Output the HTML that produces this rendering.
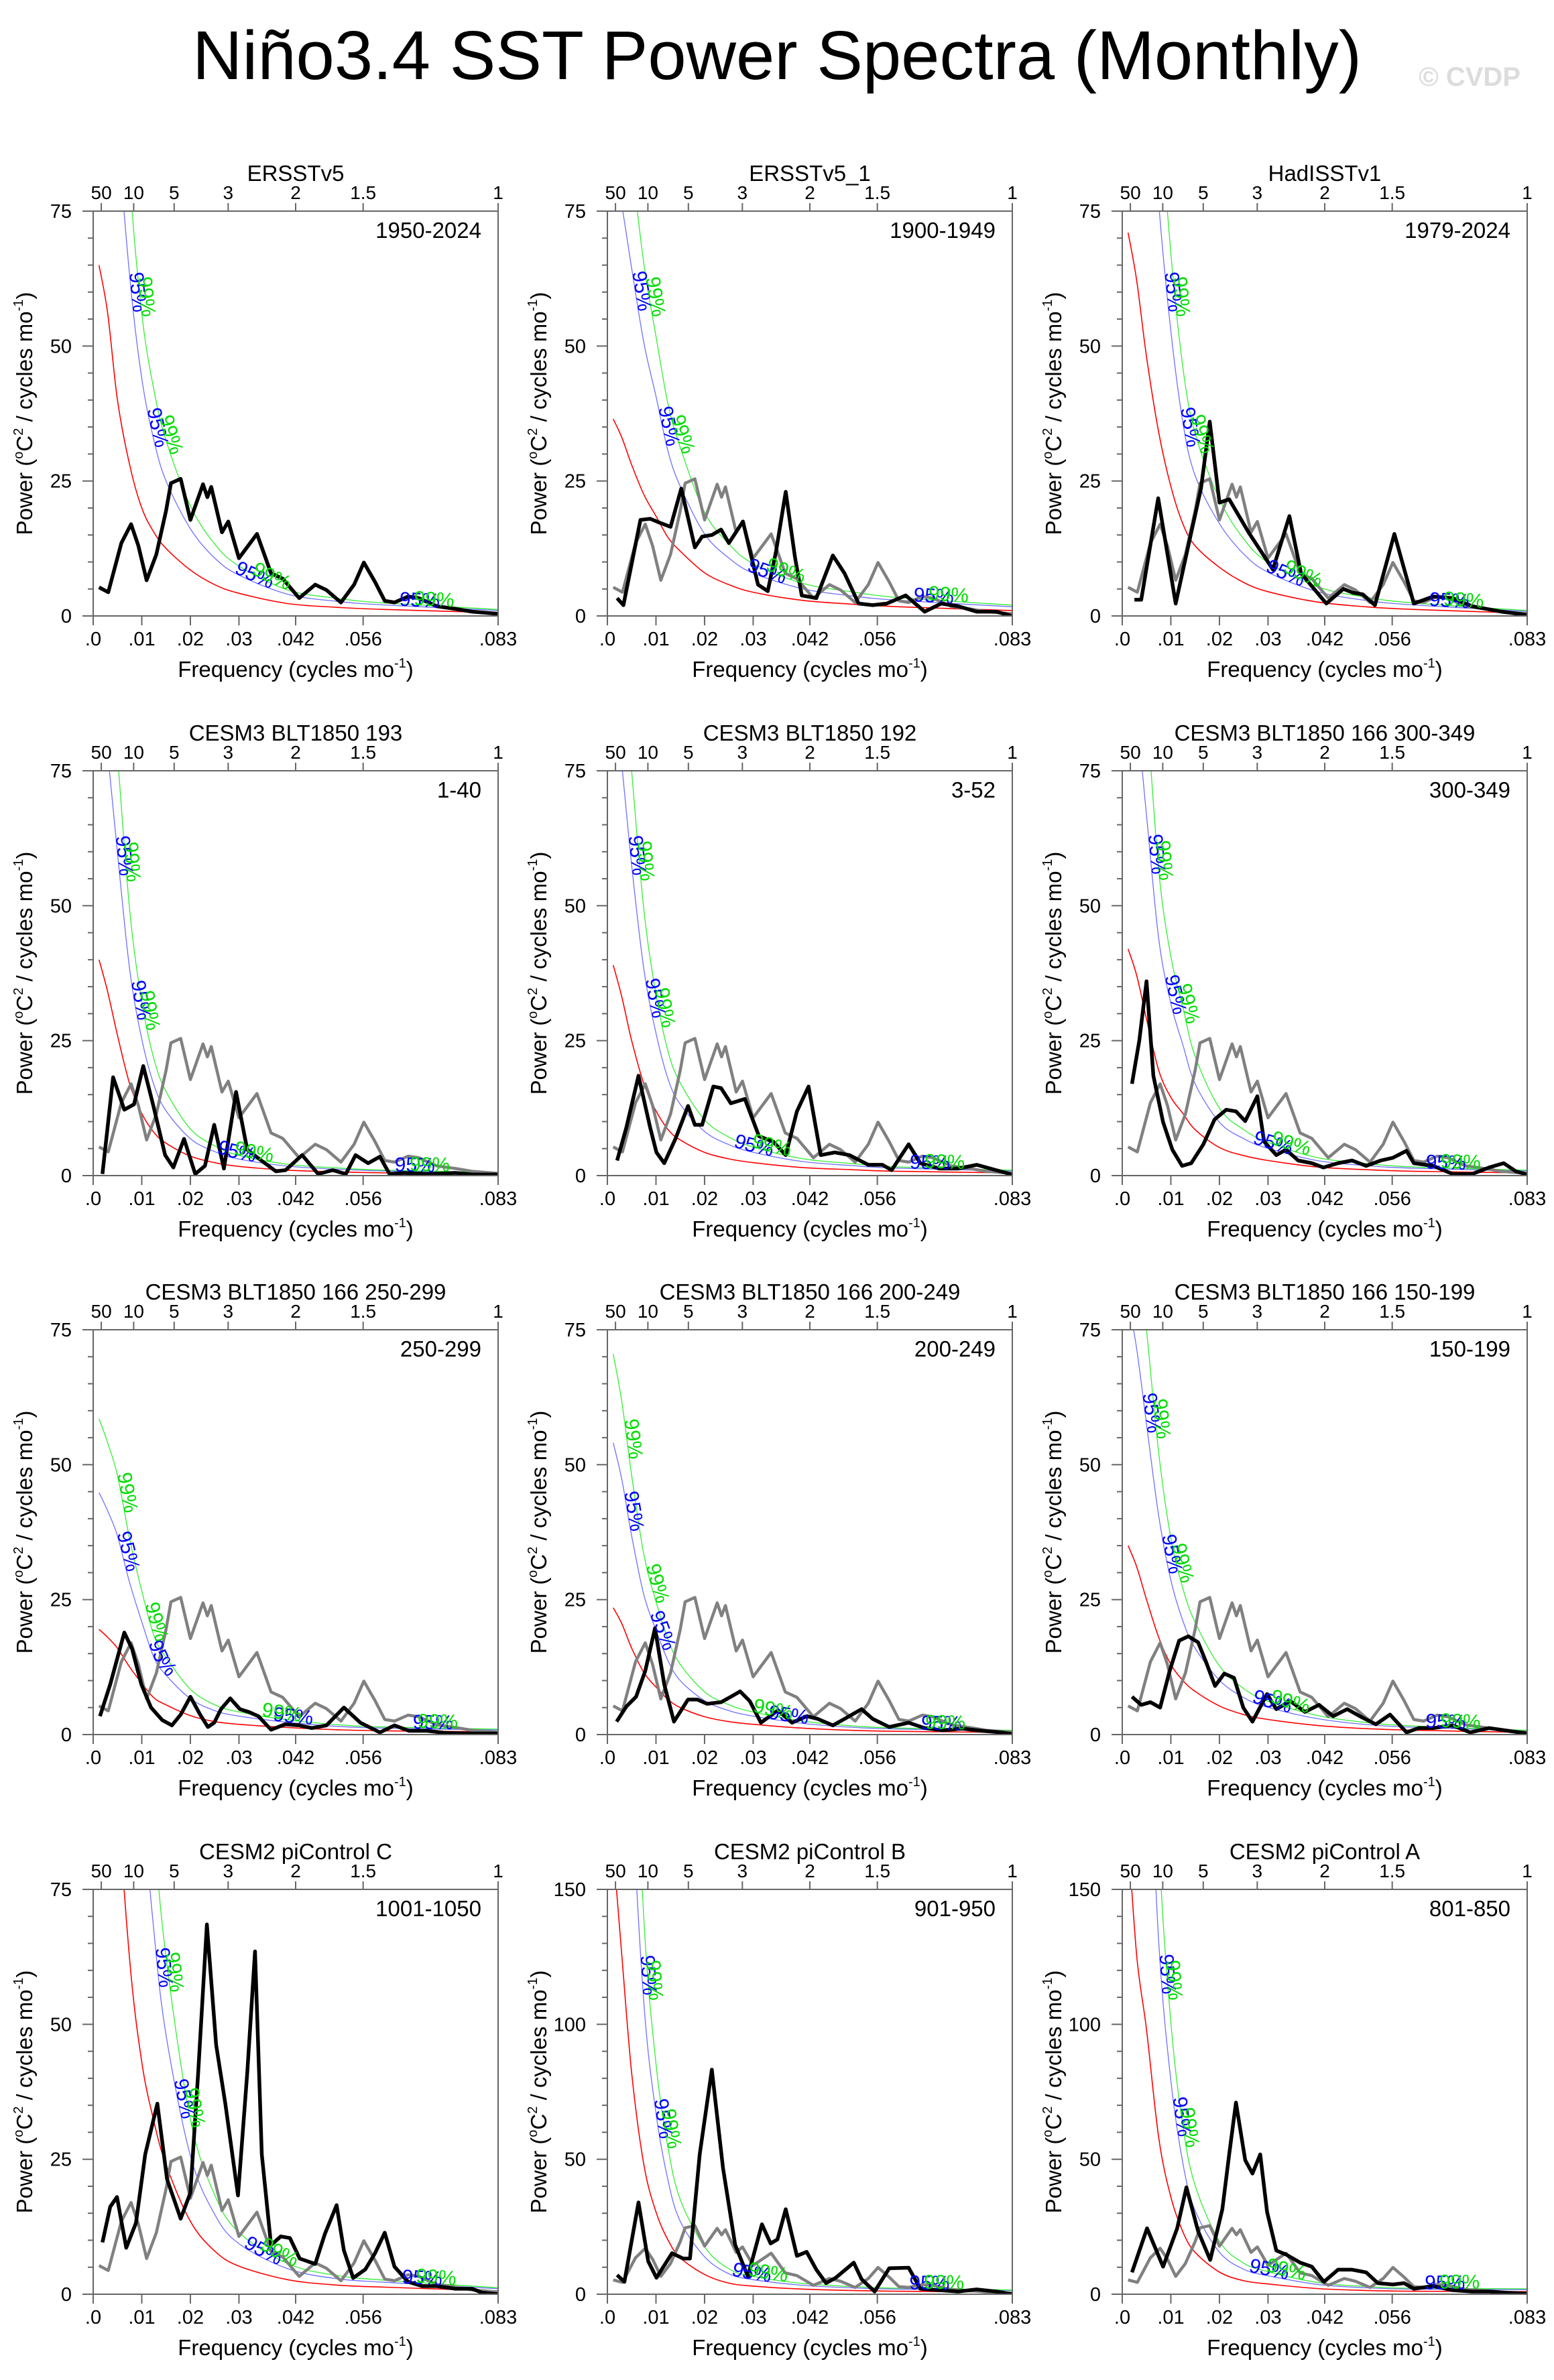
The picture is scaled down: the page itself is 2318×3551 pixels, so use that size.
<!DOCTYPE html>
<html><head><meta charset="utf-8">
<style>
html,body{margin:0;padding:0;background:#fff;}
svg{display:block;font-family:"Liberation Sans",sans-serif;}
</style></head>
<body>
<svg id="fig" width="2318" height="3551" viewBox="0 0 2318 3551" xmlns="http://www.w3.org/2000/svg">
<rect x="0" y="0" width="2318" height="3551" fill="#fff"/>
<text x="1159" y="118" font-size="103" text-anchor="middle" textLength="1744" lengthAdjust="spacingAndGlyphs" fill="#000">Niño3.4 SST Power Spectra (Monthly)</text>
<text x="2268" y="128" font-size="40" font-weight="bold" text-anchor="end" fill="#dcdcdc">© CVDP</text>
</svg>
<script>
// ---- data ----
const KF=[0.0012,0.003,0.005,0.0075,0.01,0.0125,0.015,0.02,0.025,0.03,0.04,0.05,0.06,0.0833];
const BLUE_FACTOR=[2.3,2.3,2.3,2.25,2.2,2.1,2.0,1.9,1.85,1.8,1.75,1.7,1.7,1.7];
const GREEN_FACTOR=[3.0,3.0,3.0,2.9,2.8,2.7,2.6,2.4,2.3,2.2,2.1,2.05,2.0,2.0];

const RED1=[65,56,40,28,20,15.5,12.5,8.5,5.8,4.2,2.3,1.6,1.2,0.6];
const RED2=[36.5,33,28,22.5,18.5,14.5,12,8,5.8,4.4,2.9,2.2,1.7,1.0];
const RED3=[71,62,48,34,24,17,13,9,6.2,4.5,2.6,1.7,1.2,0.5];
const RED4=[40,34,26,17,11.5,8,6,3.6,2.4,1.7,1.0,0.7,0.5,0.3];
const RED5=[39,33,25,17,12,8.5,6.6,4.3,3.1,2.4,1.5,1.1,0.8,0.5];
const RED6=[42,37,29,19.5,14.5,11.5,8.5,5.2,3.7,2.8,1.6,1.1,0.8,0.5];
const RED7=[19.5,18,16,12.5,9.5,6.8,5.5,3.5,2.4,1.9,1.3,0.9,0.7,0.5];
const RED8=[23.5,20.5,16,11.5,8.8,6.5,5,3.3,2.4,1.9,1.2,0.8,0.6,0.4];
const RED9=[35,31,25,18,13,10,8,5.3,3.7,2.8,1.7,1.1,0.8,0.4];
const RED10=[200,140,95,62,43,32,24,13.5,8,5.2,2.7,1.7,1.3,0.6];
const RED11=[165,125,82,48,30.5,20,13.5,7.3,4.1,3,1.9,1.4,1.1,0.8];
const RED12=[170,125,98,58,36,23,15.5,8.2,5,3.8,2.1,1.4,1.1,1.0];

const P1F=[.0012,.0031,.0058,.0078,.0093,.011,.013,.015,.016,.018,.020,.0226,.0235,.0243,.0265,.0278,.030,.0337,.0366,.039,.0424,.0457,.048,.051,.0537,.0557,.058,.060,.062,.0648,.067,.0707,.0746,.078,.0833];
const P1V=[5.3,4.4,13.5,17,13,6.6,11.4,19.5,24.6,25.4,17.8,24.4,22,23.9,15.5,17.5,10.7,15.2,7.9,6.9,3.3,5.8,4.8,2.5,5.8,9.9,6.3,2.8,2.5,3.6,3.3,1.8,1.3,0.8,0.4];
const P2F=[.002,.0033,.0068,.0088,.0107,.013,.0152,.018,.0195,.0215,.0234,.025,.0279,.031,.033,.0347,.0367,.0386,.04,.043,.0464,.0488,.0517,.0546,.0575,.0614,.0653,.0687,.0722,.076,.08,.0833];
const P2V=[3.3,2,17.8,18,17.3,16.5,23.6,12.7,14.7,15,16,13.5,17.5,5.8,4.6,11.9,23,10.9,3.8,3.3,11.2,7.9,2.3,2,2.3,3.8,0.8,2.3,1.8,0.8,0.8,0];
const P3F=[.0025,.0039,.0074,.011,.0132,.0162,.018,.020,.022,.026,.031,.0344,.0368,.042,.0455,.0475,.0495,.052,.056,.060,.064,.068,.072,.078,.0833];
const P3V=[3,3,21.8,2.3,11.4,23.6,36,21,21.6,15.5,8.6,18.5,7.9,2.3,5,4.3,4,2,15.2,2.3,3.6,3.3,1.8,0.8,0.2];
const P4F=[.0019,.0041,.0064,.0084,.0103,.0123,.0148,.0165,.0187,.021,.023,.0249,.0269,.0294,.0317,.0346,.0376,.0396,.043,.0463,.0493,.052,.054,.0566,.059,.061,.064,.0687,.0746,.078,.0833];
const P4V=[0.3,18.2,12.2,13.2,20.3,13.2,3.8,1.5,6.8,0.3,1.8,9.4,1.3,15.5,4.8,2.8,0.8,1,3.8,0.3,1,0.3,3.8,2.3,3.5,0.3,0.5,0.3,0.5,0.2,0.2];
const P5F=[.002,.0039,.0064,.0088,.0101,.0117,.014,.0166,.018,.0195,.0218,.0234,.0254,.0283,.0312,.0341,.0367,.039,.0414,.0439,.0468,.0498,.0537,.0566,.0585,.062,.0644,.0683,.0722,.076,.08,.0833];
const P5V=[2.8,8.9,18.5,8.9,4.3,2.3,6.8,12.9,9.4,9.4,16.5,16.2,13.4,14.2,7.3,6.3,3.8,11.9,16.5,3.8,4.3,3.8,2,2,1,5.8,2.3,1.3,1.3,2,1,0.2];
const P6F=[.002,.0035,.005,.0064,.0084,.0103,.0123,.0142,.0167,.019,.0214,.0234,.0253,.0278,.0292,.0317,.0337,.0362,.039,.0414,.0444,.0473,.0502,.0532,.0557,.0585,.06,.064,.068,.072,.0755,.0785,.081,.0833];
const P6V=[17,25,36,18.5,9.9,4.8,1.8,2.3,5.8,10.4,12.2,11.9,10.1,14.7,6.3,3.8,4.8,2.8,2.3,1.5,2.3,2.8,1.8,2.8,3.3,4.6,2.3,1.8,0.3,0.3,1.5,2.3,0.8,0.2];
const P7F=[.0014,.0035,.0064,.008,.0099,.0119,.0142,.0162,.018,.020,.022,.0236,.0249,.0263,.0282,.0302,.032,.034,.0366,.0395,.0424,.045,.048,.0516,.055,.059,.062,.065,.0687,.0726,.078,.0833];
const P7V=[3.4,9.3,18.9,15.9,9.3,5,2.7,1.7,3.7,7,3.7,1.4,2.2,4.7,6.7,4.7,4.2,3.4,0.9,1.9,1.7,1.2,1.7,5,2.2,0.4,1.7,0.7,0.7,0.3,0.2,0.2];
const P8F=[.0019,.0039,.0059,.0078,.0098,.0117,.0137,.0166,.0185,.0205,.0234,.0254,.0273,.0293,.0316,.0351,.038,.041,.0433,.0464,.0488,.0523,.0546,.058,.062,.0653,.069,.073,.077,.081,.0833];
const P8V=[2.4,5.2,7,11.8,19.7,9.3,2.4,6.5,6.5,5.7,6,7,8,6.2,2.2,4.5,2.2,3.4,2.9,1.7,2.9,4.7,2.9,1.4,2.2,1.2,0.8,1.1,0.7,0.4,0.1];
const P9F=[.002,.0039,.0058,.0078,.0097,.0117,.0136,.0156,.0171,.0191,.021,.023,.0249,.0268,.0298,.0317,.0346,.0376,.0405,.0434,.0463,.0493,.0522,.0551,.0585,.061,.064,.068,.0716,.0755,.0794,.0833];
const P9V=[7,5.5,6,5,11.6,17.4,18.2,17.1,13.8,9,11.3,10.5,5,2.4,7.5,4.7,6.2,4.2,5.5,3.4,4.7,3.2,1.9,3.7,0.4,1.2,1.2,1.7,0.4,1.2,0.7,0.2];
const P10F=[.0019,.0035,.0049,.0068,.0088,.0107,.0132,.0152,.018,.020,.0216,.0234,.0253,.0272,.0298,.0317,.0333,.0347,.0366,.0386,.0405,.0425,.0457,.0477,.0501,.0516,.0535,.056,.058,.060,.062,.0648,.0677,.0707,.0746,.078,.080,.0833];
const P10V=[9.6,16.2,18,8.6,13.2,25.9,35.3,21.3,14,18.8,41,68.5,46.2,35.3,18.3,41,63.5,25.9,9.1,10.7,10.4,6.6,5.6,11.2,16.5,8.1,3,4.6,7.6,11.4,5.1,2.3,1.5,1.5,1,1,0.3,0];
const P11F=[.002,.0035,.0064,.0084,.0101,.0133,.0156,.017,.019,.0215,.0238,.0263,.0289,.0318,.0336,.035,.0367,.039,.041,.043,.045,.047,.0507,.0523,.055,.058,.062,.0644,.0683,.0722,.076,.08,.0833];
const P11V=[7.1,4.6,34,12.2,6.1,15.2,13.2,13.2,51.8,83.2,46.7,18.3,6.6,25.9,18.8,20.3,31.5,14.2,15.7,9.1,4.1,6.1,11.7,5.6,1,9.6,9.8,2,1.5,1,1.8,1,0];
const P12F=[.002,.0051,.0084,.0113,.0132,.0156,.0181,.0206,.022,.0234,.0253,.0268,.0284,.0298,.0317,.0337,.0366,.039,.0415,.0444,.0473,.0502,.0526,.0557,.058,.06,.064,.068,.072,.0755,.0794,.0833];
const P12V=[8.1,24.4,10.2,24.4,39.6,23.4,12.7,31.5,51.8,71,49.7,44.7,51.8,30.5,16.2,14.7,11.7,10.2,4.6,9.1,9.1,8.1,4.1,3.6,4.1,2,3,1.5,1,1,0.5,0.2];

const TITLES=["ERSSTv5","ERSSTv5_1","HadISSTv1","CESM3 BLT1850 193","CESM3 BLT1850 192","CESM3 BLT1850 166 300-349","CESM3 BLT1850 166 250-299","CESM3 BLT1850 166 200-249","CESM3 BLT1850 166 150-199","CESM2 piControl C","CESM2 piControl B","CESM2 piControl A"];
const RANGES=["1950-2024","1900-1949","1979-2024","1-40","3-52","300-349","250-299","200-249","150-199","1001-1050","901-950","801-850"];
const YMAX=[75,75,75,75,75,75,75,75,75,75,150,150];
const FREQS=[P1F,P2F,P3F,P4F,P5F,P6F,P7F,P8F,P9F,P10F,P11F,P12F];
const VALS=[P1V,P2V,P3V,P4V,P5V,P6V,P7V,P8V,P9V,P10V,P11V,P12V];
const REDS=[RED1,RED2,RED3,RED4,RED5,RED6,RED7,RED8,RED9,RED10,RED11,RED12];
const XTICKS=[0,0.01,0.02,0.03,1/24,1/18,1/12];
const XTICK_LABELS=[".0",".01",".02",".03",".042",".056",".083"];
const PERIODS=[50,10,5,3,2,1.5,1];
const PERIOD_LABELS=["50","10","5","3","2","1.5","1"];

// ---- layout ----
const COLX=[139,906,1674], ROWY=[315,1150,1984,2819], W=604, H=604, FMAX=1/12;
const NS="http://www.w3.org/2000/svg";
const svg=document.getElementById('fig');
function mk(tag,attrs,parent){const e=document.createElementNS(NS,tag);for(const k in attrs)e.setAttribute(k,attrs[k]);parent.appendChild(e);return e;}

function smoothPath(pts){
  let d="M"+pts[0][0].toFixed(1)+","+pts[0][1].toFixed(1);
  for(let i=0;i<pts.length-1;i++){
    const p0=pts[Math.max(0,i-1)],p1=pts[i],p2=pts[i+1],p3=pts[Math.min(pts.length-1,i+2)];
    const c1=[p1[0]+(p2[0]-p0[0])/6,p1[1]+(p2[1]-p0[1])/6];
    const c2=[p2[0]-(p3[0]-p1[0])/6,p2[1]-(p3[1]-p1[1])/6];
    d+=" C"+c1[0].toFixed(1)+","+c1[1].toFixed(1)+" "+c2[0].toFixed(1)+","+c2[1].toFixed(1)+" "+p2[0].toFixed(1)+","+p2[1].toFixed(1);
  }
  return d;
}

for(let p=0;p<12;p++){
  const x0=COLX[p%3], y0=ROWY[Math.floor(p/3)], ymax=YMAX[p];
  const xs=f=>x0+f/FMAX*W;
  const ys=v=>y0+H-v/ymax*H;
  const g=mk('g',{},svg);
  
  
  const cp=mk('clipPath',{id:'clip'+p},g);
  mk('rect',{x:x0,y:y0,width:W,height:H},cp);

  // title
  const t=mk('text',{x:x0+W/2,y:y0-45,'font-size':33,'text-anchor':'middle',fill:'#000'},g);
  t.textContent=TITLES[p];
  
  
  // range label
  const r=mk('text',{x:x0+W-25,y:y0+40,'font-size':33,'text-anchor':'end',fill:'#000'},g);
  r.textContent=RANGES[p];
  
  

  // curves group (clipped)
  const cg=mk('g',{'clip-path':'url(#clip'+p+')'},g);
  
  

  const redPts=KF.map((f,i)=>[xs(f),ys(REDS[p][i])]);
  const bluePts=KF.map((f,i)=>[xs(f),ys(REDS[p][i]*BLUE_FACTOR[i])]);
  const greenPts=KF.map((f,i)=>[xs(f),ys(REDS[p][i]*GREEN_FACTOR[i])]);
  const red=mk('path',{d:smoothPath(redPts),fill:'none',stroke:'#ff0000','stroke-width':1.6},cg);
  
  
  const blue=mk('path',{id:'blue'+p,d:smoothPath(bluePts),fill:'none',stroke:'#6f6fff','stroke-width':1.3},cg);
  
  
  const green=mk('path',{id:'green'+p,d:smoothPath(greenPts),fill:'none',stroke:'#33ee33','stroke-width':1.3},cg);
  
  

  if(p>0){
    const gp=P1F.map((f,i)=>xs(f).toFixed(1)+","+ys(P1V[i]).toFixed(1)).join(" ");
    const gl=mk('polyline',{points:gp,fill:'none',stroke:'#808080','stroke-width':4.5,'stroke-linejoin':'round'},cg);
    
    
  }
  const bp=FREQS[p].map((f,i)=>xs(f).toFixed(1)+","+ys(VALS[p][i]).toFixed(1)).join(" ");
  const bl=mk('polyline',{points:bp,fill:'none',stroke:'#000','stroke-width':5.5,'stroke-linejoin':'round'},cg);
  
  

  // confidence labels along curves
  [[blue,'95%','#0000ff',[0.12,0.33,0.62,0.88]],[green,'99%','#00dd00',[0.13,0.35,0.64,0.9]]].forEach(([path,txt,col,fr])=>{
    const L=path.getTotalLength();
    let L0=0;
    for(let s=0;s<L;s+=2){if(path.getPointAtLength(s).y>=y0+4){L0=s;break;}}
    fr.forEach(fv=>{
      const tx=mk('text',{'font-size':30,fill:col,'text-anchor':'middle'},cg);
      
      
      const tp=mk('textPath',{href:'#'+path.id,startOffset:(L0+fv*(L-L0)).toFixed(1)},tx);
      tp.textContent=txt;
    });
  });

  // frame
  const fr=mk('rect',{x:x0,y:y0,width:W,height:H,fill:'none',stroke:'#666','stroke-width':2},g);
  
  

  // y ticks
  const yStep=ymax/15;
  for(let k=0;k<=15;k++){
    const v=k*yStep, y=ys(v), major=(k%5===0);
    const tk=mk('line',{x1:x0,x2:x0-(major?16:8),y1:y,y2:y,stroke:'#666','stroke-width':2},g);
    
    
    if(major){
      const lb=mk('text',{x:x0-32,y:y+10,'font-size':29,'text-anchor':'end',fill:'#000'},g);
      lb.textContent=String(Math.round(v));
      
      
    }
  }
  // x ticks
  XTICKS.forEach((f,i)=>{
    const x=xs(f);
    const tk=mk('line',{x1:x,x2:x,y1:y0+H,y2:y0+H+14,stroke:'#666','stroke-width':2},g);
    
    
    const lb=mk('text',{x:x,y:y0+H+44,'font-size':29,'text-anchor':'middle',fill:'#000'},g);
    lb.textContent=XTICK_LABELS[i];
    
    
  });
  // top period ticks
  PERIODS.forEach((P,i)=>{
    const x=xs(1/(12*P));
    const tk=mk('line',{x1:x,x2:x,y1:y0,y2:y0-12,stroke:'#666','stroke-width':2},g);
    
    
    const lb=mk('text',{x:x,y:y0-18,'font-size':28,'text-anchor':'middle',fill:'#000'},g);
    lb.textContent=PERIOD_LABELS[i];
    
    
  });
  // x title
  const xt=mk('text',{x:x0+W/2,y:y0+H+91,'font-size':33,'text-anchor':'middle',fill:'#000'},g);
  
  
  xt.appendChild(document.createTextNode('Frequency (cycles mo'));
  const s1=mk('tspan',{'font-size':20,dy:-14},xt); s1.textContent='-1';
  const s2=mk('tspan',{dy:14},xt); s2.textContent=')';
  // y title
  const yt=mk('text',{x:0,y:0,'font-size':33,'text-anchor':'middle',fill:'#000',transform:'translate('+(x0-91)+','+(y0+H/2)+') rotate(-90)'},g);
  
  
  yt.appendChild(document.createTextNode('Power ('));
  const a1=mk('tspan',{'font-size':20,dy:-14},yt); a1.textContent='o';
  const a2=mk('tspan',{dy:14},yt); a2.textContent='C';
  const a3=mk('tspan',{'font-size':20,dy:-14},yt); a3.textContent='2';
  const a4=mk('tspan',{dy:14},yt); a4.textContent=' / cycles mo';
  const a5=mk('tspan',{'font-size':20,dy:-14},yt); a5.textContent='-1';
  const a6=mk('tspan',{dy:14},yt); a6.textContent=')';
}
</script>
</body></html>
